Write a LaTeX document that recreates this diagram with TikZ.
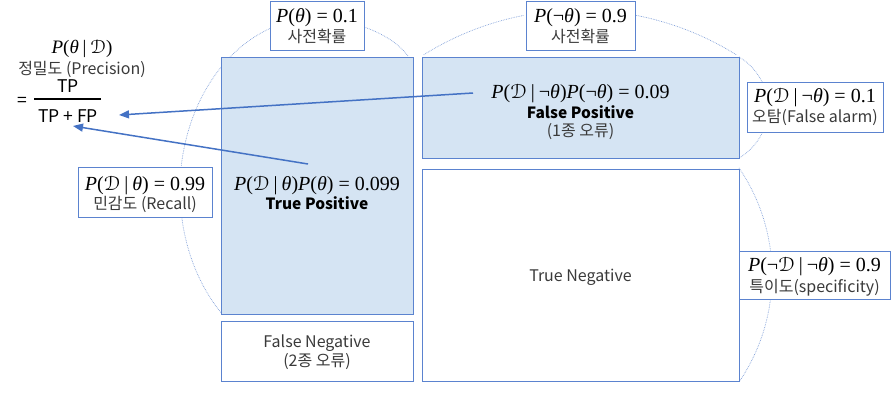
\documentclass[tikz,border=0pt]{standalone}
\usepackage[mathscr]{eucal}
\usepackage{fontspec}
\usetikzlibrary{arrows.meta}
\newfontfamily\kr{Noto Sans CJK KR}
\newfontfamily\tnr{Liberation Serif}
\definecolor{bord}{HTML}{5B83CF}
\definecolor{fillb}{HTML}{D5E4F3}
\definecolor{arr}{HTML}{4472C4}
\definecolor{dotc}{HTML}{7F9ED8}
\definecolor{txt}{HTML}{3A3A3A}
\newcommand\mP{\textit{P}}
\newcommand\mT{\textit{θ}}
\newcommand\mD{\ensuremath{\mathscr{D}}}
\newcommand\mbar{\hspace{0.2em}|\hspace{0.2em}}
\tikzset{
  lbox/.style={draw=bord, line width=1pt, fill=white, inner sep=0pt},
  cellb/.style={draw=bord, line width=1pt, fill=fillb, inner sep=0pt},
  cellw/.style={draw=bord, line width=1pt, fill=white, inner sep=0pt},
  mathl/.style={font=\tnr\fontsize{20}{24}\selectfont, anchor=base, inner sep=0pt},
  krl/.style={font=\kr\fontsize{16}{19}\selectfont, text=txt, anchor=base, inner sep=0pt},
  krb/.style={font=\kr\bfseries\fontsize{15.5}{18}\selectfont, text=black, anchor=base, inner sep=0pt},
  fracl/.style={font=\kr\fontsize{17.5}{20}\selectfont, text=black, anchor=base, inner sep=0pt},
  dotarc/.style={draw=dotc, line width=0.7pt, densely dotted},
  arrowl/.style={draw=arr, line width=1.5pt, -{Triangle[length=10pt,width=8pt]}},
}
\begin{document}
\begin{tikzpicture}[x=1pt,y=-1pt]
\useasboundingbox (0,0) rectangle (891,402);
% dotted arcs
\draw[dotarc] (270.1,28.4) arc[start angle=250, end angle=188, x radius=137, y radius=172];
\draw[dotarc] (181.7,216.9) arc[start angle=171, end angle=134.5, x radius=137, y radius=172];
\draw[dotarc] (364,27) .. controls (384,34) and (399,44) .. (408,56);
\draw[dotarc] (423.7,54.8) arc[start angle=238, end angle=259, radius=295];
\draw[dotarc] (636.3,15.4) arc[start angle=281, end angle=302, radius=295];
\draw[dotarc] (739,57) arc[start angle=-59.7, end angle=59.7, radius=58.5];
\draw[dotarc] (739,167.9) arc[start angle=-34.3, end angle=34.3, radius=190];
% cells
\node[cellb, minimum width=192pt, minimum height=257pt] (tp) at (317,185.5) {};
\node[cellw, minimum width=192pt, minimum height=60pt] (fn) at (317,351) {};
\node[cellb, minimum width=317pt, minimum height=101pt] (fp) at (580.5,107.5) {};
\node[cellw, minimum width=317pt, minimum height=212pt] (tn) at (580.5,275) {};
% label boxes
\node[lbox, minimum width=94pt, minimum height=49pt] (bth) at (317,25.5) {};
\node[lbox, minimum width=109pt, minimum height=49pt] (bnth) at (580.5,25.5) {};
\node[lbox, minimum width=136pt, minimum height=50pt] (bdnth) at (815,107) {};
\node[lbox, minimum width=151pt, minimum height=48pt] (bndnth) at (814.5,275) {};
\node[lbox, minimum width=134pt, minimum height=50pt] (bdth) at (145,192) {};
% label texts
\node[mathl] (tth1) at (317,22) {\mP(\mT) = 0.1};
\node[krl] (tth2) at (317,42) {사전확률};
\node[mathl] (tnth1) at (580.5,22) {\mP(¬\mT) = 0.9};
\node[krl] (tnth2) at (580.5,42) {사전확률};
\node[mathl] (tdnth1) at (815,102) {\mP(\mD\mbar¬\mT) = 0.1};
\node[krl] (tdnth2) at (815,122) {오탐(False alarm)};
\node[mathl] (tndnth1) at (814.5,271) {\mP(¬\mD\mbar¬\mT) = 0.9};
\node[krl] (tndnth2) at (814.5,292) {특이도(specificity)};
\node[mathl] (tdth1) at (145,190) {\mP(\mD\mbar\mT) = 0.99};
\node[krl] (tdth2) at (145,209) {민감도 (Recall)};
% cell texts
\node[mathl] (tpl1) at (317,190) {\mP(\mD\mbar\mT)\mP(\mT) = 0.099};
\node[krb] (tpl2) at (317,209) {True Positive};
\node[mathl] (fpl1) at (580.5,98) {\mP(\mD\mbar¬\mT)\mP(¬\mT) = 0.09};
\node[krb] (fpl2) at (580.5,118) {False Positive};
\node[krl] (fpl3) at (580.5,136) {(1종 오류)};
\node[krl] (fnl1) at (317,347) {False Negative};
\node[krl] (fnl2) at (317,366) {(2종 오류)};
\node[krl] (tnl1) at (580.5,281) {True Negative};
% precision formula
\node[font=\tnr\fontsize{19}{22}\selectfont, anchor=base, inner sep=0pt] (prec1) at (82,53) {\mP(\mT\mbar\mD)};
\node[krl] (prec2) at (82,74) {정밀도 (Precision)};
\node[fracl] (feq) at (22,106) {=};
\node[fracl] (fnum) at (68,92) {TP};
\node[fracl] (fden) at (68,122) {TP + FP};
\coordinate (fbl) at (34,99);
\coordinate (fbr) at (101,99);
\draw[line width=1.6pt] (fbl) -- (fbr);
% arrows
\coordinate (a1s) at (473,93);
\coordinate (a1e) at (119,115);
\coordinate (a2s) at (308,164);
\coordinate (a2e) at (73,126);
\draw[arrowl] (a1s) -- (a1e);
\draw[arrowl] (a2s) -- (a2e);
\end{tikzpicture}
\end{document}
